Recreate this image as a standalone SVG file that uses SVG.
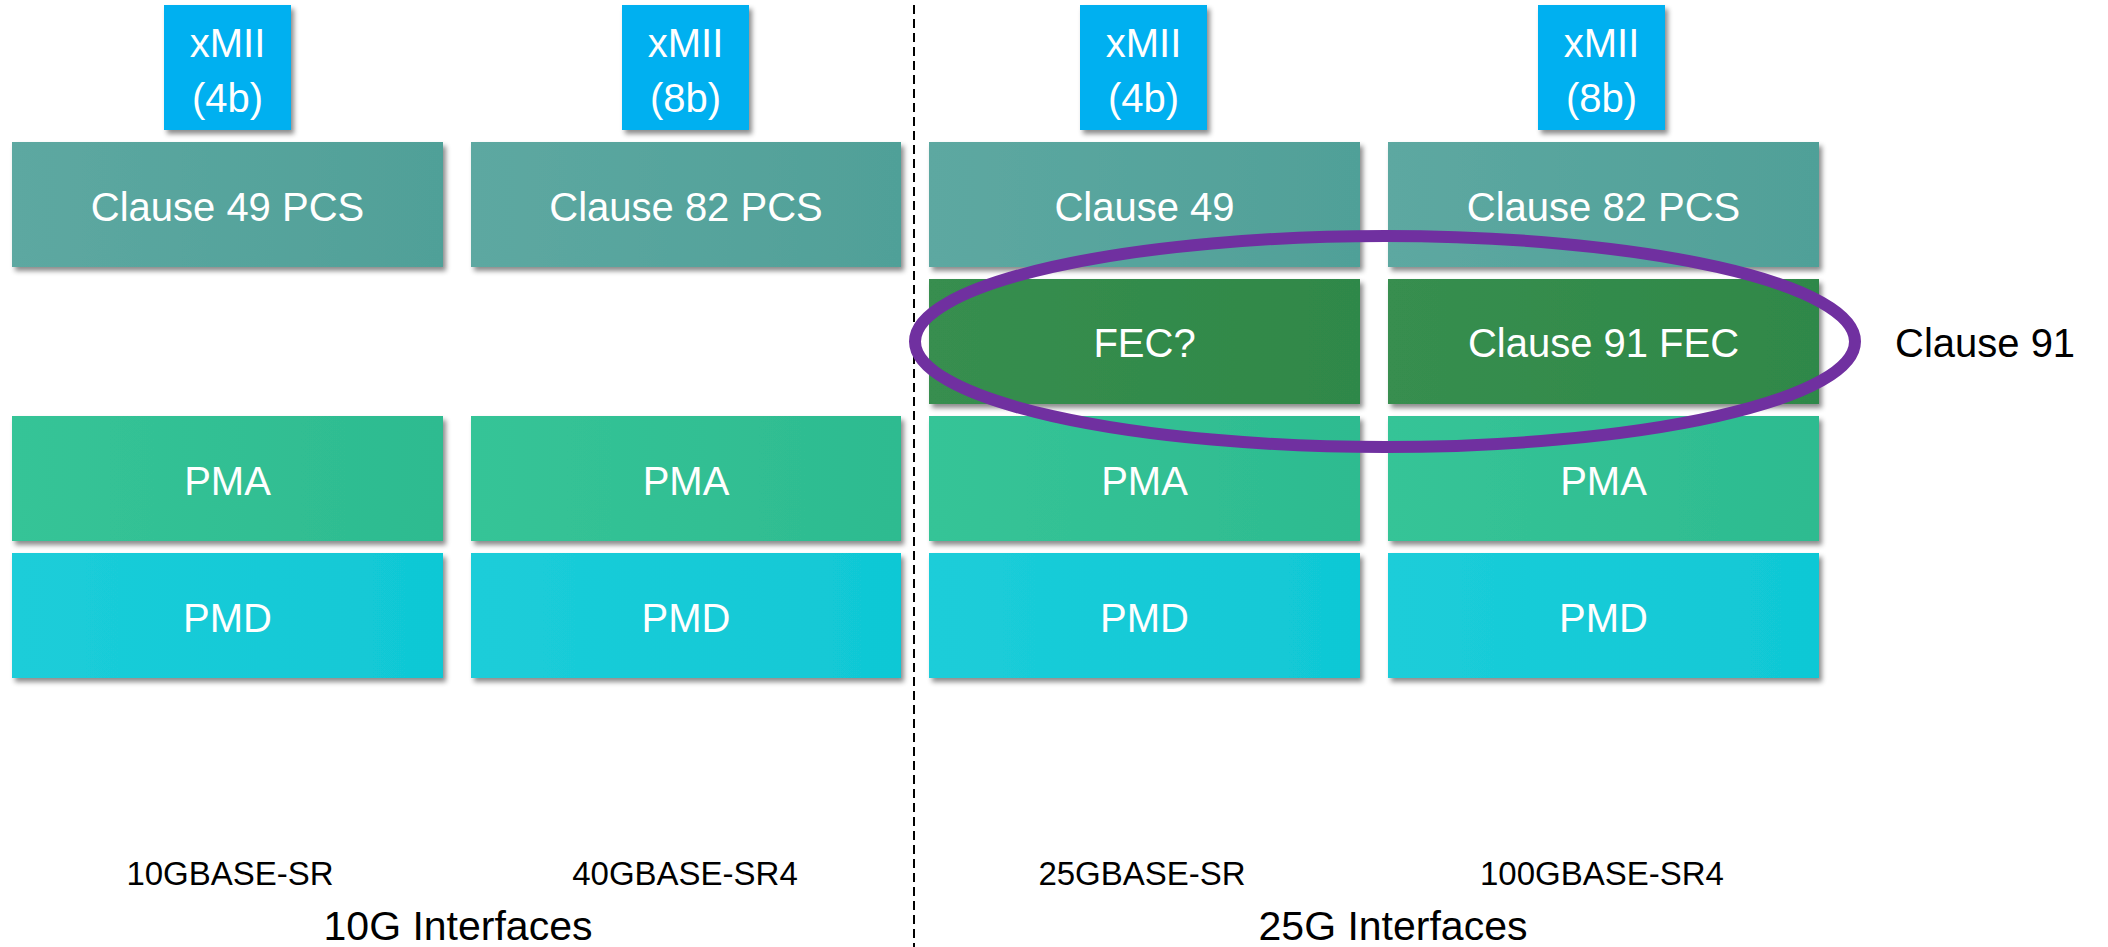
<svg xmlns="http://www.w3.org/2000/svg" width="2108" height="947" viewBox="0 0 2108 947">
<defs>
<filter id="sh" x="-5%" y="-5%" width="112%" height="120%">
<feDropShadow dx="3" dy="4" stdDeviation="2.5" flood-color="#000" flood-opacity="0.45"/>
</filter>
<linearGradient id="gPcs" x1="0" y1="0" x2="1" y2="0"><stop offset="0" stop-color="#5DA8A1"/><stop offset="1" stop-color="#50A098"/></linearGradient>
<linearGradient id="gFec" x1="0" y1="0" x2="1" y2="0"><stop offset="0" stop-color="#378E4F"/><stop offset="1" stop-color="#2F8848"/></linearGradient>
<linearGradient id="gPma" x1="0" y1="0" x2="1" y2="0"><stop offset="0" stop-color="#36C497"/><stop offset="1" stop-color="#2DBB90"/></linearGradient>
<linearGradient id="gPmd" x1="0" y1="0" x2="1" y2="0"><stop offset="0" stop-color="#1CCDD9"/><stop offset="1" stop-color="#10C8D5"/></linearGradient>
</defs>
<style>
.box{filter:url(#sh);}
.xmii{fill:#00B0F0;}
.pcs{fill:url(#gPcs);}
.fec{fill:url(#gFec);}
.pma{fill:url(#gPma);}
.pmd{fill:url(#gPmd);}
.wt{font-family:"Liberation Sans",Arial,sans-serif;font-size:40px;fill:#FFFFFF;text-anchor:middle;}
.bt{font-family:"Liberation Sans",Arial,sans-serif;font-size:40px;fill:#000000;}
.lb{font-family:"Liberation Sans",Arial,sans-serif;font-size:33px;fill:#000000;text-anchor:middle;}
.il{font-family:"Liberation Sans",Arial,sans-serif;font-size:41px;fill:#000000;text-anchor:middle;}
</style>
<rect width="2108" height="947" fill="#FFFFFF"/>

<g id="divider">
<line x1="914" y1="5" x2="914" y2="947" stroke="#000" stroke-width="2" stroke-dasharray="9 5"/>
</g>

<g id="xmii-1"><rect class="box xmii" x="164" y="5" width="127" height="125"/><text class="wt" x="227.5" y="57">xMII</text><text class="wt" x="227.5" y="112">(4b)</text></g>
<g id="xmii-2"><rect class="box xmii" x="622" y="5" width="127" height="125"/><text class="wt" x="685.5" y="57">xMII</text><text class="wt" x="685.5" y="112">(8b)</text></g>
<g id="xmii-3"><rect class="box xmii" x="1080" y="5" width="127" height="125"/><text class="wt" x="1143.5" y="57">xMII</text><text class="wt" x="1143.5" y="112">(4b)</text></g>
<g id="xmii-4"><rect class="box xmii" x="1538" y="5" width="127" height="125"/><text class="wt" x="1601.5" y="57">xMII</text><text class="wt" x="1601.5" y="112">(8b)</text></g>

<g id="pcs-1"><rect class="box pcs" x="12" y="142" width="431" height="125"/><text class="wt" x="227.5" y="221">Clause 49 PCS</text></g>
<g id="pcs-2"><rect class="box pcs" x="471" y="142" width="430" height="125"/><text class="wt" x="686" y="221">Clause 82 PCS</text></g>
<g id="pcs-3"><rect class="box pcs" x="929" y="142" width="431" height="125"/><text class="wt" x="1144.5" y="221">Clause 49</text></g>
<g id="pcs-4"><rect class="box pcs" x="1388" y="142" width="431" height="125"/><text class="wt" x="1603.5" y="221">Clause 82 PCS</text></g>

<g id="fec-3"><rect class="box fec" x="929" y="279" width="431" height="125"/><text class="wt" x="1144.5" y="357">FEC?</text></g>
<g id="fec-4"><rect class="box fec" x="1388" y="279" width="431" height="125"/><text class="wt" x="1603.5" y="357">Clause 91 FEC</text></g>

<g id="pma-1"><rect class="box pma" x="12" y="416" width="431" height="125"/><text class="wt" x="227.5" y="495">PMA</text></g>
<g id="pma-2"><rect class="box pma" x="471" y="416" width="430" height="125"/><text class="wt" x="686" y="495">PMA</text></g>
<g id="pma-3"><rect class="box pma" x="929" y="416" width="431" height="125"/><text class="wt" x="1144.5" y="495">PMA</text></g>
<g id="pma-4"><rect class="box pma" x="1388" y="416" width="431" height="125"/><text class="wt" x="1603.5" y="495">PMA</text></g>

<g id="pmd-1"><rect class="box pmd" x="12" y="553" width="431" height="125"/><text class="wt" x="227.5" y="632">PMD</text></g>
<g id="pmd-2"><rect class="box pmd" x="471" y="553" width="430" height="125"/><text class="wt" x="686" y="632">PMD</text></g>
<g id="pmd-3"><rect class="box pmd" x="929" y="553" width="431" height="125"/><text class="wt" x="1144.5" y="632">PMD</text></g>
<g id="pmd-4"><rect class="box pmd" x="1388" y="553" width="431" height="125"/><text class="wt" x="1603.5" y="632">PMD</text></g>

<g id="clause91-highlight">
<ellipse cx="1385" cy="341.5" rx="470" ry="105.5" fill="none" stroke="#7030A0" stroke-width="12"/>
<text class="bt" x="1895" y="357">Clause 91</text>
</g>

<g id="labels">
<text class="lb" x="230" y="885">10GBASE-SR</text>
<text class="lb" x="685" y="885">40GBASE-SR4</text>
<text class="lb" x="1142" y="885">25GBASE-SR</text>
<text class="lb" x="1602" y="885">100GBASE-SR4</text>
<text class="il" x="458" y="940">10G Interfaces</text>
<text class="il" x="1393" y="940">25G Interfaces</text>
</g>
</svg>
